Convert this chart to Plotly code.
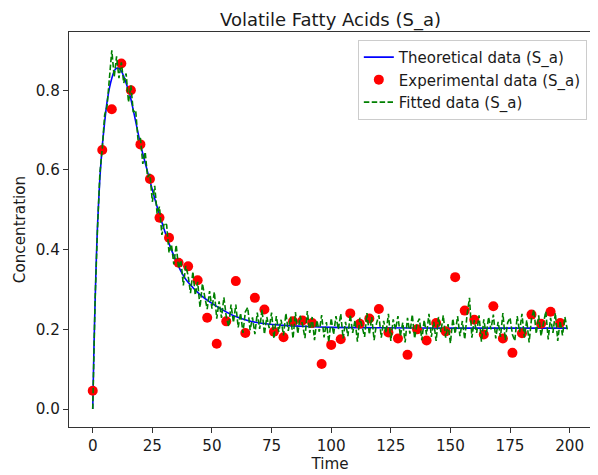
import plotly.graph_objects as go

# Theoretical curve
t_theo = [0, 0.5, 1, 1.5, 2, 3, 4, 5, 6, 7, 8, 9, 10, 11, 12, 13, 14, 15, 16, 17, 18, 19,
          20, 22, 24, 26, 28, 30, 32, 34, 36, 38, 40, 45, 50, 55, 60, 65, 70, 80, 90, 100,
          120, 150, 199]
s_theo = [0.0, 0.15, 0.27, 0.375, 0.46, 0.58, 0.66, 0.72, 0.77, 0.805, 0.83, 0.848, 0.855,
          0.855, 0.848, 0.835, 0.818, 0.80, 0.778, 0.75, 0.722, 0.693,
          0.664, 0.618, 0.572, 0.528, 0.487, 0.45, 0.415, 0.385, 0.358, 0.335, 0.318, 0.287,
          0.265, 0.247, 0.232, 0.222, 0.216, 0.21, 0.207, 0.205, 0.204, 0.203, 0.203]

# Experimental points
t_exp = list(range(0, 200, 4))
s_exp = [0.046, 0.65, 0.752, 0.867, 0.80, 0.664, 0.577, 0.48, 0.43, 0.367,
         0.358, 0.323, 0.229, 0.164, 0.22, 0.321, 0.191, 0.279, 0.25, 0.194,
         0.18, 0.22, 0.222, 0.216, 0.113, 0.161, 0.175, 0.24, 0.214, 0.227,
         0.251, 0.192, 0.177, 0.136, 0.2, 0.172, 0.216, 0.195, 0.331, 0.247,
         0.224, 0.187, 0.258, 0.177, 0.141, 0.19, 0.237, 0.214, 0.244, 0.216]

# Fitted (noisy) curve
t_fit = list(range(0, 200))
s_fit = [0.000, 0.275, 0.452, 0.592, 0.654, 0.738, 0.760, 0.827, 0.900, 0.833,
         0.885, 0.830, 0.870, 0.818, 0.842, 0.770, 0.812, 0.745, 0.750, 0.675,
         0.680, 0.615, 0.645, 0.582, 0.590, 0.520, 0.560, 0.490, 0.508, 0.437,
         0.467, 0.462, 0.392, 0.413, 0.363, 0.412, 0.353, 0.373, 0.310, 0.359,
         0.335, 0.291, 0.345, 0.286, 0.319, 0.255, 0.315, 0.281, 0.251, 0.296,
         0.252, 0.294, 0.227, 0.270, 0.229, 0.280, 0.232, 0.207, 0.262, 0.217,
         0.262, 0.205, 0.241, 0.191, 0.244, 0.255, 0.198, 0.230, 0.188, 0.242,
         0.201, 0.250, 0.188, 0.231, 0.203, 0.242, 0.177, 0.233, 0.194, 0.224,
         0.185, 0.240, 0.196, 0.232, 0.177, 0.243, 0.189, 0.234, 0.211, 0.178,
         0.246, 0.191, 0.231, 0.173, 0.223, 0.194, 0.236, 0.180, 0.218, 0.168,
         0.228, 0.187, 0.233, 0.200, 0.239, 0.177, 0.219, 0.183, 0.237, 0.191,
         0.223, 0.169, 0.229, 0.206, 0.181, 0.241, 0.187, 0.231, 0.173, 0.215,
         0.235, 0.179, 0.221, 0.191, 0.239, 0.171, 0.225, 0.200, 0.233, 0.183,
         0.217, 0.167, 0.229, 0.189, 0.237, 0.177, 0.215, 0.227, 0.173, 0.223,
         0.187, 0.239, 0.181, 0.219, 0.171, 0.231, 0.193, 0.235, 0.179, 0.213,
         0.165, 0.227, 0.189, 0.233, 0.183, 0.221, 0.175, 0.239, 0.279, 0.179,
         0.223, 0.191, 0.235, 0.169, 0.225, 0.185, 0.231, 0.200, 0.237, 0.177,
         0.219, 0.181, 0.241, 0.173, 0.217, 0.229, 0.187, 0.171, 0.233, 0.193,
         0.239, 0.179, 0.223, 0.167, 0.227, 0.249, 0.189, 0.235, 0.183, 0.215,
         0.245, 0.175, 0.229, 0.191, 0.241, 0.171, 0.221, 0.185, 0.231, 0.200]

x_ticks = [0, 25, 50, 75, 100, 125, 150, 175, 200]
y_ticks = [0.0, 0.2, 0.4, 0.6, 0.8]

FONT = "DejaVu Sans"
TXT = "#1a1a1a"
FS = 15.2

fig = go.Figure()
fig.add_trace(go.Scatter(x=t_theo, y=s_theo, mode="lines", name="Theoretical data (S_a)",
                         line=dict(color="#0000ff", width=1.6, shape="spline", smoothing=0.5),
                         legendgroup="a"))
fig.add_trace(go.Scatter(x=t_exp, y=s_exp, mode="markers", name="Experimental data (S_a)",
                         marker=dict(color="#ff0000", size=10, line=dict(width=0)),
                         legendgroup="b"))
fig.add_trace(go.Scatter(x=t_fit, y=s_fit, mode="lines", name="Fitted data (S_a)",
                         line=dict(color="#008000", width=1.6, dash="5.5px,2.4px"),
                         legendgroup="c"))

axis_common = dict(showline=True, linecolor="#333333", linewidth=1.2, mirror=True,
                   ticks="outside", ticklen=5, tickwidth=1, tickcolor="#333333",
                   showgrid=False, zeroline=False, automargin=False,
                   tickfont=dict(family=FONT, size=FS, color=TXT))

# The page body adds an 8px offset, so the figure is 8px smaller and margins shifted.
fig.update_layout(
    width=590, height=467,
    margin=dict(l=61, r=7, t=24, b=48),
    paper_bgcolor="white", plot_bgcolor="white",
    font=dict(family=FONT, size=FS, color=TXT),
    showlegend=True,
    legend=dict(x=0.992, y=0.98, xanchor="right", yanchor="top",
                bgcolor="rgba(255,255,255,0.8)", bordercolor="#cccccc", borderwidth=1,
                font=dict(family=FONT, size=15, color=TXT), tracegroupgap=3,
                traceorder="normal"),
    annotations=[dict(text="Volatile Fatty Acids (S_a)", xref="paper", yref="paper",
                      x=0.5, y=1, xanchor="center", yanchor="bottom", yshift=0,
                      borderpad=0,
                      showarrow=False, font=dict(family=FONT, size=18, color=TXT))],
)
fig.update_xaxes(range=[-9.95, 208.95], tickvals=x_ticks,
                 title=dict(text="Time", font=dict(family=FONT, size=FS, color=TXT), standoff=3),
                 **axis_common)
fig.update_yaxes(range=[-0.045, 0.946], tickvals=y_ticks, tickformat=".1f",
                 title=dict(text="Concentration", font=dict(family=FONT, size=FS, color=TXT), standoff=6),
                 **axis_common)

fig.write_html("out.html")
